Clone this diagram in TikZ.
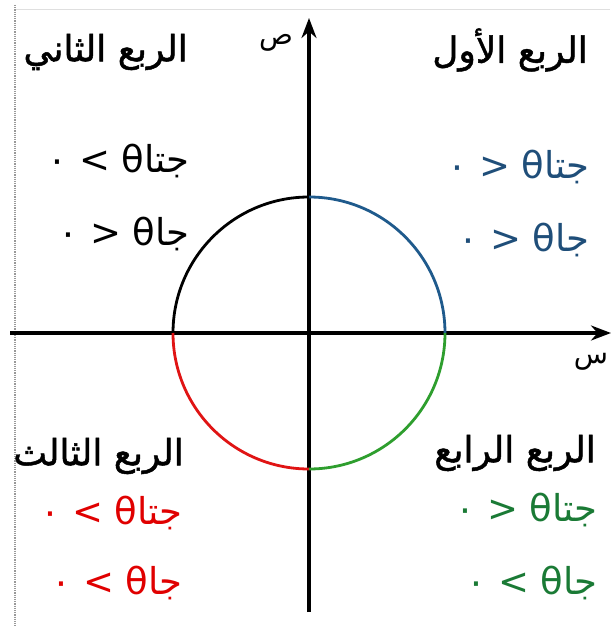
\documentclass[tikz,border=0pt]{standalone}
\usepackage{fontspec}
\TeXXeTstate=1
\newfontfamily\ar[Script=Arabic]{DejaVu Sans}
\newfontfamily\arb[Script=Arabic,FakeBold=1.3]{DejaVu Sans}
\usetikzlibrary{arrows.meta}
\definecolor{qblue}{HTML}{1F5A8C}
\definecolor{qred}{HTML}{E01414}
\definecolor{qgreen}{HTML}{2E9E2E}
\definecolor{tblue}{HTML}{1F4E79}
\definecolor{tred}{HTML}{E00000}
\definecolor{tgreen}{HTML}{1A7A35}
\begin{document}
\begin{tikzpicture}[x=1pt,y=-1pt,
  axis/.style={line width=3.2pt,-{Stealth[length=20pt,width=15pt]}},
  quarc/.style={line width=2.8pt},
  lab/.style={font=\arb\fontsize{36}{40}\selectfont, inner sep=0pt, anchor=east},
  ineq/.style={font=\ar\fontsize{37}{42}\selectfont, inner sep=0pt, anchor=east},
  axlab/.style={font=\ar\fontsize{28}{32}\selectfont, inner sep=0pt}]
\useasboundingbox (0,0) rectangle (610,626);
\draw[gray!25, line width=1pt] (15,10) -- (610,10);
\draw[gray!80, densely dotted, line width=1.2pt] (15,5) -- (15,626);
\coordinate (O) at (309,333);
\coordinate (yb) at (309,612);
\coordinate (yt) at (309,18);
\coordinate (xl) at (10,333);
\coordinate (xr) at (611,333);
\draw[axis] (yb) -- (yt);
\draw[axis] (xl) -- (xr);
% circle quadrants
\draw[quarc, qblue] (445,333) arc[start angle=0, end angle=-90, radius=136];
\draw[quarc, black] (309,197) arc[start angle=-90, end angle=-180, radius=136];
\draw[quarc, qred] (173,333) arc[start angle=180, end angle=90, radius=136];
\draw[quarc, qgreen] (309,469) arc[start angle=90, end angle=0, radius=136];
% axis labels
\node[axlab] (sad) at (276,43) {ص};
\node[axlab] (sin) at (591,362) {س};
% quadrant titles
\node[lab] (t2) at (188,52) {\beginR الربع الثاني\endR};
\node[lab] (t1) at (588,50) {\beginR الربع الأول\endR};
\node[lab] (t3) at (184,456) {\beginR الربع الثالث\endR};
\node[lab] (t4) at (596,453) {\beginR الربع الرابع\endR};
% inequalities (glyphs chosen so the drawn line matches the reference)
\node[ineq, black] (c2) at (190,161) {\beginR جتا\kern0pt θ > ٠\endR};
\node[ineq, black] (s2) at (190,234) {\beginR جا\kern0pt θ < ٠\endR};
\node[ineq, tblue] (c1) at (590,167) {\beginR جتا\kern0pt θ < ٠\endR};
\node[ineq, tblue] (s1) at (590,240) {\beginR جا\kern0pt θ < ٠\endR};
\node[ineq, tred] (c3) at (183,513) {\beginR جتا\kern0pt θ > ٠\endR};
\node[ineq, tred] (s3) at (183,583) {\beginR جا\kern0pt θ > ٠\endR};
\node[ineq, tgreen] (c4) at (598,510) {\beginR جتا\kern0pt θ < ٠\endR};
\node[ineq, tgreen] (s4) at (598,583) {\beginR جا\kern0pt θ > ٠\endR};
\end{tikzpicture}
\end{document}
